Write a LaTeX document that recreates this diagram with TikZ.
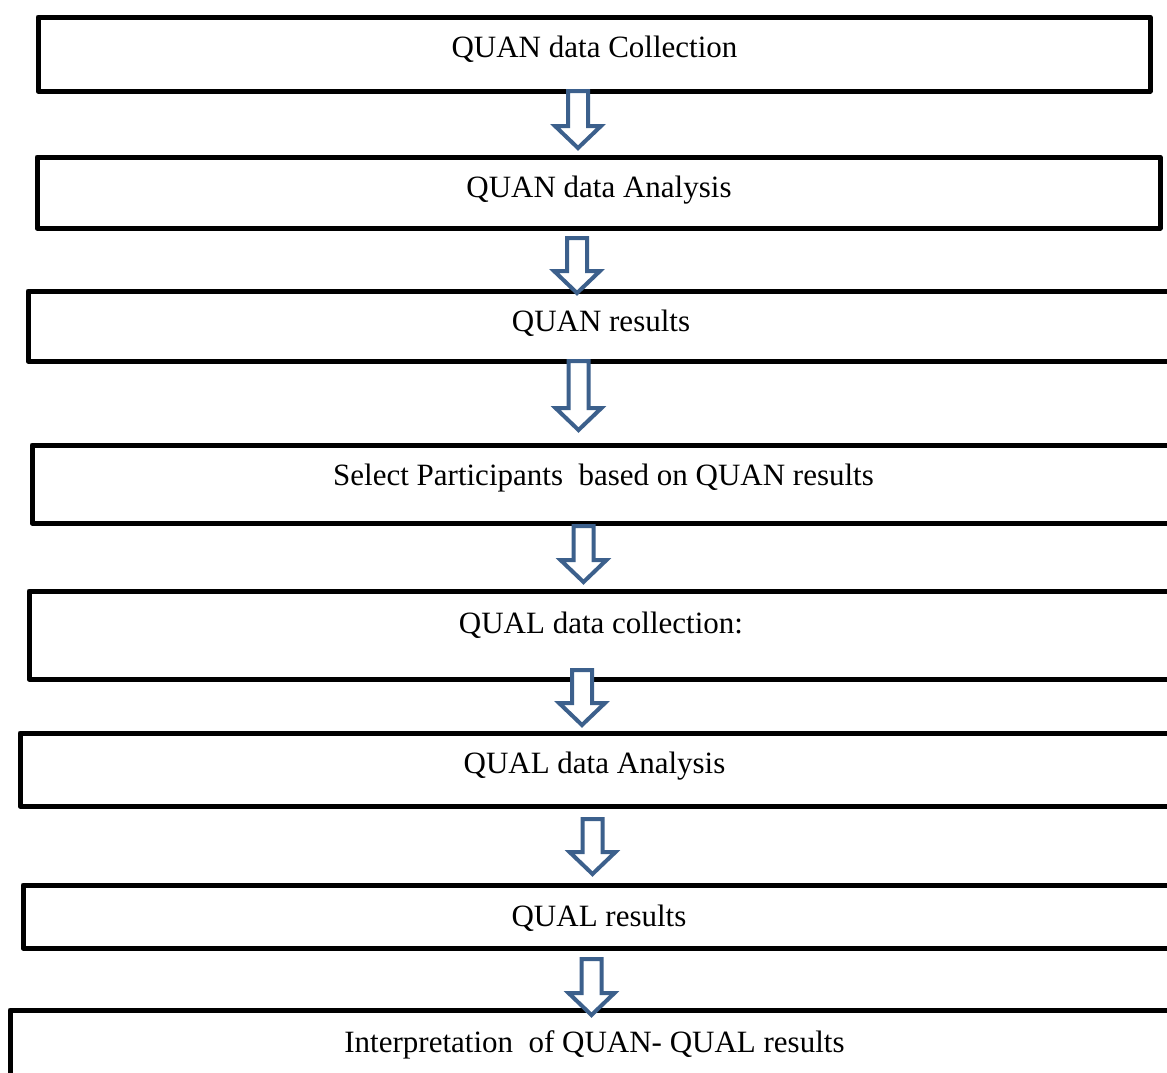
\documentclass[tikz,border=0pt]{standalone}
\usepackage{fontspec}
\setmainfont{Liberation Serif}
\definecolor{arrowblue}{RGB}{60,96,140}
\tikzset{
  flowbox/.style={draw=black, line width=5pt, line join=round, rectangle, inner sep=0pt, outer sep=0pt, anchor=north west, fill=none},
  flowtext/.style={anchor=base, inner sep=0pt, font=\fontsize{31}{36}\selectfont},
  barrowstyle/.style={draw=arrowblue, fill=white, line width=4pt, line join=miter}
}
\newcommand{\blockarrow}[4]{% name, x, top, tip
  \coordinate (#1top) at (#2,#3);
  \coordinate (#1tip) at (#2,#4);
  \draw[barrowstyle] ({#2-10},{#3}) -- ({#2+10},{#3}) -- ({#2+10},{#4-22}) -- ({#2+23},{#4-22})
    -- (#1tip) -- ({#2-23},{#4-22}) -- ({#2-10},{#4-22}) -- cycle;}
\begin{document}
\begin{tikzpicture}[x=1pt,y=-1pt]
\useasboundingbox (0,0) rectangle (1167,1072);
\clip (0,0) rectangle (1167,1072);
\fill[white] (0,0) rectangle (1167,1072);
% boxes
\node[flowbox, minimum width=1112pt, minimum height=74pt] (b1) at (38,17) {};
\node[flowbox, minimum width=1123pt, minimum height=71pt] (b2) at (37,157) {};
\node[flowbox, minimum width=1172pt, minimum height=70pt] (b3) at (28,291) {};
\node[flowbox, minimum width=1168pt, minimum height=78pt] (b4) at (32,445) {};
\node[flowbox, minimum width=1171pt, minimum height=88pt] (b5) at (29,591) {};
\node[flowbox, minimum width=1180pt, minimum height=73pt] (b6) at (20,733) {};
\node[flowbox, minimum width=1177pt, minimum height=63pt] (b7) at (23,885) {};
\node[flowbox, minimum width=1190pt, minimum height=90pt] (b8) at (10,1010) {};
% texts
\node[flowtext] (t1) at (594.5,57) {QUAN data Collection};
\node[flowtext] (t2) at (599,197) {QUAN data Analysis};
\node[flowtext] (t3) at (601,331) {QUAN results};
\node[flowtext] (t4) at (603.5,485) {Select Participants~ based on QUAN results};
\node[flowtext] (t5) at (601,633) {QUAL data collection:};
\node[flowtext] (t6) at (594.5,773) {QUAL data Analysis};
\node[flowtext] (t7) at (599,926) {QUAL results};
\node[flowtext] (t8) at (594.5,1052) {Interpretation~ of QUAN- QUAL results};
% arrows
\blockarrow{a1}{578}{91}{148}
\blockarrow{a2}{577}{238}{293}
\blockarrow{a3}{578.5}{361}{430}
\blockarrow{a4}{583.5}{526}{582}
\blockarrow{a5}{582}{670}{725}
\blockarrow{a6}{592.5}{819}{874}
\blockarrow{a7}{591.5}{959}{1015}
\end{tikzpicture}
\end{document}
